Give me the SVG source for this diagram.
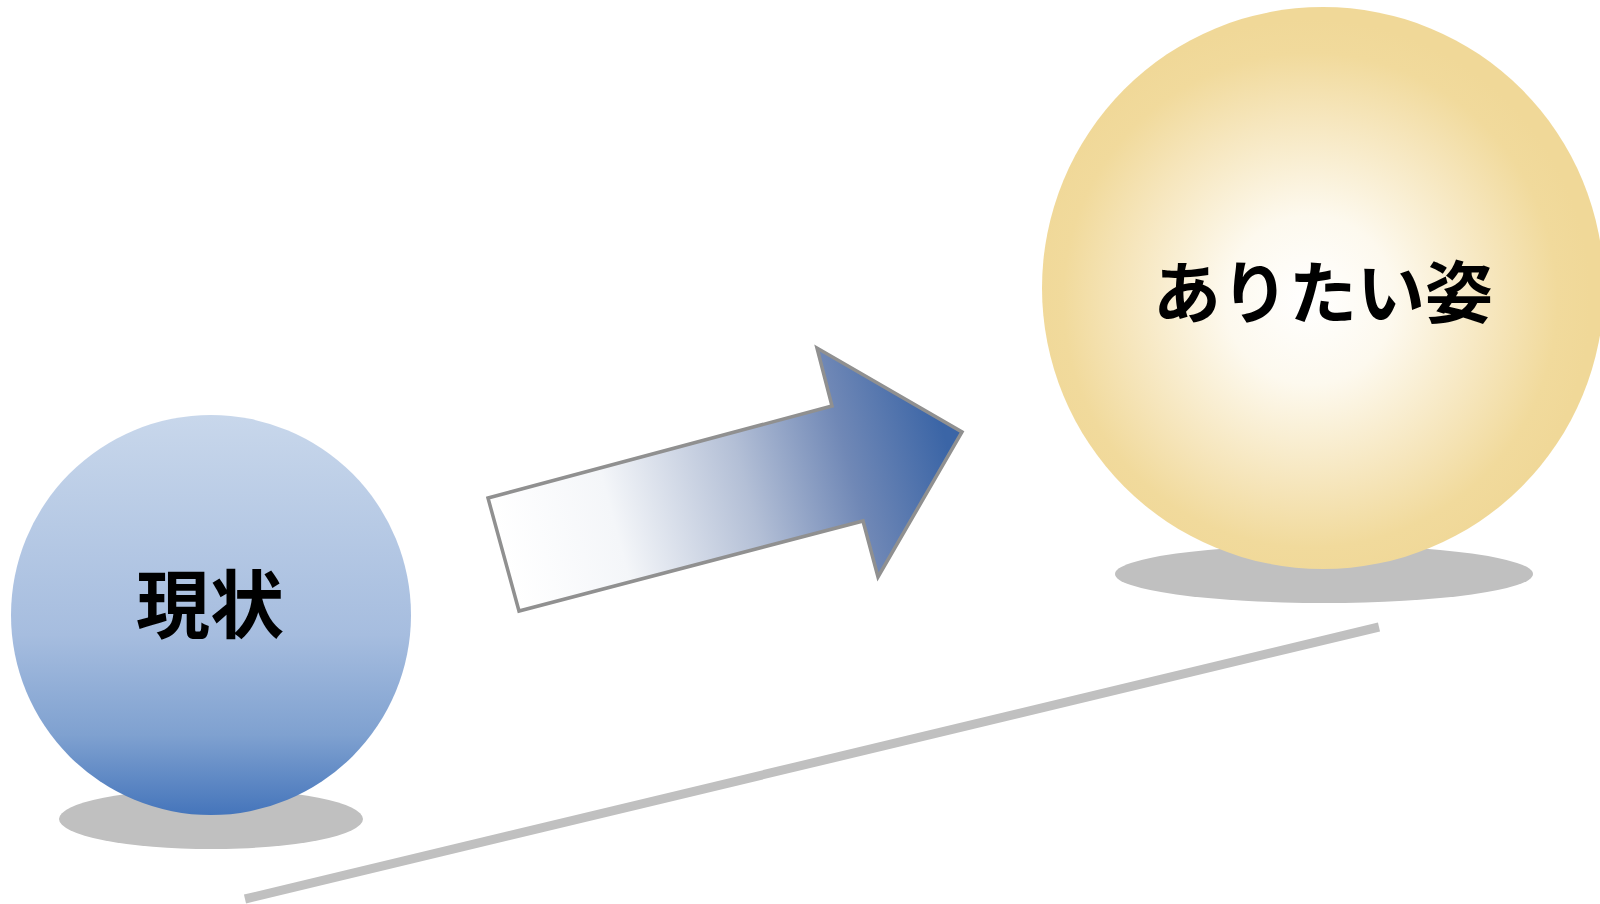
<svg xmlns="http://www.w3.org/2000/svg" width="1600" height="904" viewBox="0 0 1600 904">
<defs>
<linearGradient id="gBlue" x1="0" y1="0" x2="0" y2="1">
<stop offset="0" stop-color="#c8d7eb"/>
<stop offset="0.55" stop-color="#a6bddf"/>
<stop offset="0.8" stop-color="#7fa1d0"/>
<stop offset="1" stop-color="#4575bb"/>
</linearGradient>
<radialGradient id="gGold" cx="1310" cy="300" r="281" gradientUnits="userSpaceOnUse">
<stop offset="0" stop-color="#ffffff"/>
<stop offset="0.3" stop-color="#fdf9ee"/>
<stop offset="0.65" stop-color="#f6e6bd"/>
<stop offset="0.88" stop-color="#f1da9c"/>
<stop offset="1" stop-color="#f0d898"/>
</radialGradient>
<linearGradient id="gArrow" x1="505" y1="555" x2="945" y2="437" gradientUnits="userSpaceOnUse">
<stop offset="0" stop-color="#ffffff"/>
<stop offset="0.25" stop-color="#f4f6f9"/>
<stop offset="0.55" stop-color="#b3bfd6"/>
<stop offset="0.78" stop-color="#7088b6"/>
<stop offset="1" stop-color="#3b65a6"/>
</linearGradient>
</defs>
<style>
.shadow{fill:#c0c0c0}
.label{font-family:"Noto Sans CJK JP","Noto Sans CJK SC",sans-serif;font-weight:bold;fill:#000;text-anchor:middle}
</style>
<g id="connectors">
<line x1="245" y1="899" x2="1379" y2="627" stroke="#c0c0c0" stroke-width="9"/>
<polygon points="488,498 832,406 817,348 962,432 878,577 863,521 519,611" fill="url(#gArrow)" stroke="#909090" stroke-width="3.5" stroke-linejoin="miter"/>
</g>
<g id="node-current">
<ellipse class="shadow" cx="211" cy="819" rx="152" ry="30"/>
<circle cx="211" cy="615" r="200" fill="url(#gBlue)"/>
<text class="label" x="210" y="632" font-size="74">現状</text>
</g>
<g id="node-ideal">
<ellipse class="shadow" cx="1324" cy="574" rx="209" ry="29"/>
<circle cx="1323" cy="288" r="281" fill="url(#gGold)"/>
<text class="label" x="1323" y="318" font-size="68">ありたい姿</text>
</g>
</svg>
